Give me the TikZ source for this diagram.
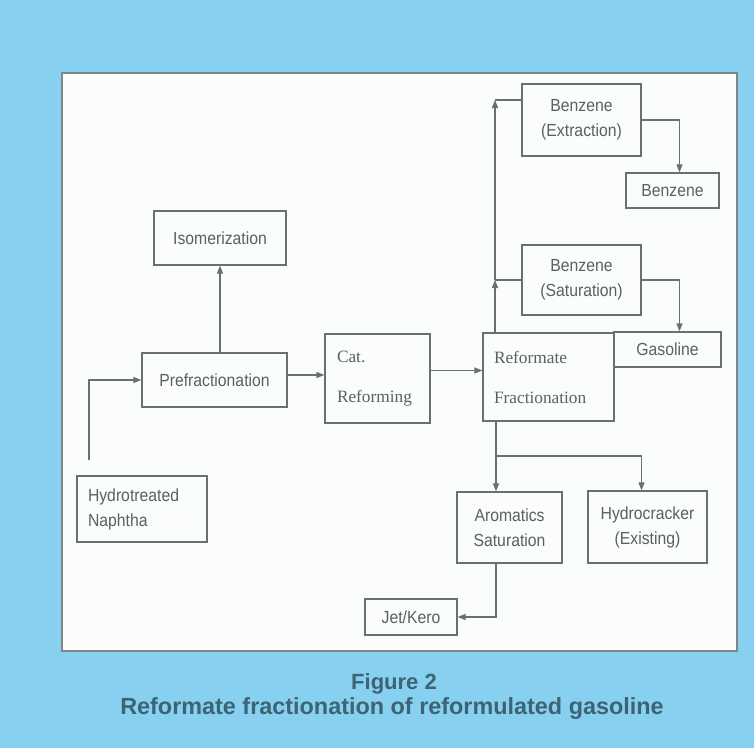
\documentclass[tikz,border=0pt]{standalone}
\usepackage{fontspec}
\setmainfont{Liberation Serif}
\newfontfamily\labfont[FakeStretch=0.9]{Liberation Sans}
\newfontfamily\serfont{Liberation Serif}
\newfontfamily\capfont{Liberation Sans}
\usetikzlibrary{arrows.meta,calc}
\definecolor{bgblue}{HTML}{88D0F0}
\definecolor{panelwhite}{HTML}{FBFCFC}
\definecolor{panelline}{HTML}{7E8688}
\definecolor{linegray}{HTML}{6A6F71}
\definecolor{textgray}{HTML}{5A6063}
\definecolor{capblue}{HTML}{3C6474}
\tikzset{
  box/.style={draw=linegray, line width=1.2pt, inner sep=0pt, text=textgray,
    align=center, font=\labfont\fontsize{17.5}{25}\selectfont},
  serbox/.style={box, align=left, font=\serfont\fontsize{17.3}{40}\selectfont},
  leftbox/.style={box, align=left},
  conn/.style={draw=linegray, line width=1.2pt},
  arr/.style={conn, -{Triangle[length=8pt,width=6pt]}},
  captext/.style={text=capblue, font=\capfont\bfseries\selectfont, anchor=base}
}
\begin{document}
\begin{tikzpicture}[x=1pt,y=-1pt]
\fill[bgblue] (0,0) rectangle (754,748);
\useasboundingbox (0,0) rectangle (754,748);
\draw[draw=panelline, line width=1.5pt, fill=panelwhite] (62,73) rectangle (737,651);

% boxes
\node[box, minimum width=132pt, minimum height=54pt] (iso) at (220,238) {Isomerization};
\node[box, minimum width=145pt, minimum height=54pt] (pre) at (214.5,380) {Prefractionation};
\node[leftbox, text width=108pt, inner xsep=11pt, minimum width=130pt, minimum height=66pt] (hyd) at (142,509) {Hydrotreated\\Naphtha};
\node[serbox, text width=81pt, inner xsep=12pt, minimum width=105pt, minimum height=89pt] (cat) at (377.5,378.5) {Cat.\\Reforming};
\node[serbox, text width=109pt, inner xsep=11pt, minimum width=131pt, minimum height=88pt] (ref) at (548.5,377) {Reformate\\Fractionation};
\node[box, minimum width=119pt, minimum height=72pt] (bext) at (581.5,120) {Benzene\\(Extraction)};
\node[box, minimum width=93pt, minimum height=35pt] (benz) at (672.5,190.5) {Benzene};
\node[box, minimum width=119pt, minimum height=70pt] (bsat) at (581.5,280) {Benzene\\(Saturation)};
\node[box, minimum width=107pt, minimum height=35pt] (gas) at (667.5,349.5) {Gasoline};
\node[box, minimum width=105pt, minimum height=71pt] (arom) at (509.5,527.5) {Aromatics\\Saturation};
\node[box, minimum width=119pt, minimum height=72pt] (hydc) at (647.5,527) {Hydrocracker\\(Existing)};
\node[box, minimum width=92pt, minimum height=36pt] (jet) at (411,617) {Jet/Kero};

% junction coordinates
\coordinate (feed) at (89,460);
\coordinate (top) at (495,100);
\coordinate (mid) at (495,280);
\coordinate (split) at (496,456);

% connectors
\draw[arr] (feed) |- (pre.west);
\draw[arr] (pre.north -| iso.south) -- (iso.south);
\draw[arr] ([yshift=5pt]pre.east) -- ([yshift=5pt]pre.east -| cat.west);
\draw[arr] ([yshift=8pt]cat.east) -- ([yshift=8pt]cat.east -| ref.west);
\draw[arr] (ref.north -| mid) -- (mid);
\draw[arr] (mid) -- (top);
\draw[conn] (mid) -- (mid -| bsat.west);
\draw[conn] (top) -- (top -| bext.west);
\draw[arr] (bext.east) -| ([xshift=7pt]benz.north);
\draw[arr] (bsat.east) -| ([xshift=12pt]gas.north);
\draw[arr] (ref.south -| split) -- (arom.north -| split);
\draw[arr] (split) -| ([xshift=-6pt]hydc.north);
\draw[arr] (arom.south -| split) |- (jet.east);

% caption
\node[captext, font=\capfont\bfseries\fontsize{22}{26}\selectfont] (figno) at (394,689) {Figure 2};
\node[captext, font=\capfont\bfseries\fontsize{23.4}{27}\selectfont] (figtitle) at (392,714) {Reformate fractionation of reformulated gasoline};
\end{tikzpicture}
\end{document}
